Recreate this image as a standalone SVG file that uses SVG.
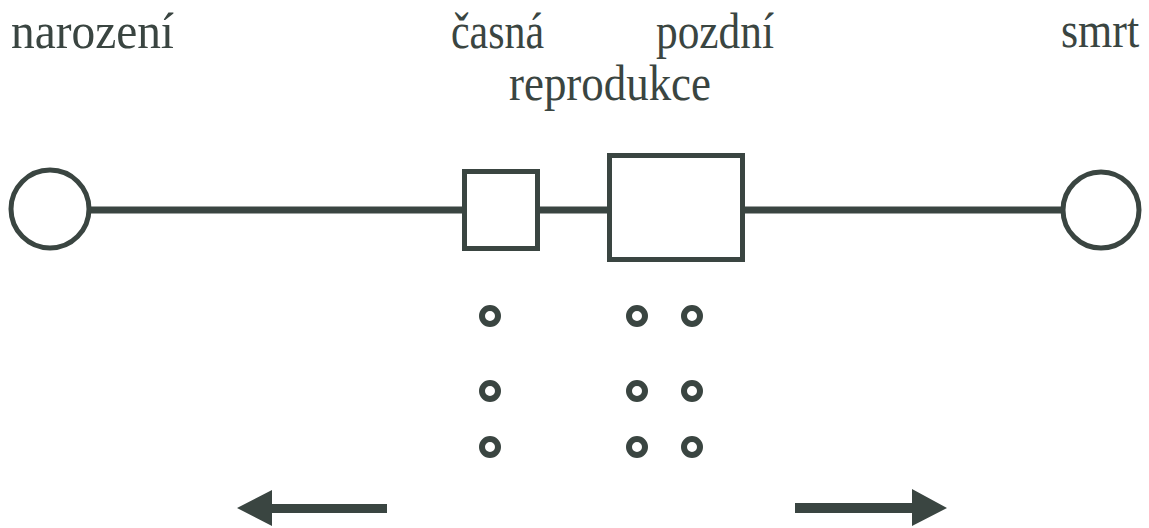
<svg xmlns="http://www.w3.org/2000/svg" width="1149" height="528" viewBox="0 0 1149 528">
<style>
.t{font-family:"Liberation Serif","Times New Roman",serif;font-size:51px;fill:#3a4541}
.s{fill:#fff;stroke:#3a4541;stroke-width:5}
.ln{stroke:#3a4541;stroke-width:7;fill:none}
.d{fill:none;stroke:#3a4541;stroke-width:6}
.a{fill:#3a4541}
</style>
<rect width="1149" height="528" fill="#fff"/>
<g id="connectors">
<line class="ln" x1="88" y1="210" x2="465" y2="210"/>
<line class="ln" x1="537" y1="210" x2="610" y2="210"/>
<line class="ln" x1="742" y1="210" x2="1063" y2="210"/>
</g>
<g id="birth"><circle class="s" cx="50" cy="209" r="39"/><text class="t" x="11" y="48" textLength="163" lengthAdjust="spacingAndGlyphs">narození</text></g>
<g id="early"><rect class="s" x="464.5" y="171.5" width="73" height="77"/><text class="t" x="451" y="48" textLength="93" lengthAdjust="spacingAndGlyphs">časná</text></g>
<g id="late"><rect class="s" x="609.5" y="155.5" width="133" height="104"/><text class="t" x="656" y="48" textLength="118" lengthAdjust="spacingAndGlyphs">pozdní</text></g>
<g id="repro"><text class="t" x="509" y="100" textLength="202" lengthAdjust="spacingAndGlyphs">reprodukce</text></g>
<g id="death"><circle class="s" cx="1101" cy="210" r="38"/><text class="t" style="font-size:44px" x="0" y="0" transform="translate(1061,47) scale(1,1.16)">smrt</text></g>
<g id="dots">
<circle class="d" cx="490" cy="316" r="8"/><circle class="d" cx="637" cy="316" r="8"/><circle class="d" cx="692" cy="316" r="8"/>
<circle class="d" cx="490" cy="391" r="8"/><circle class="d" cx="637" cy="391" r="8"/><circle class="d" cx="692" cy="391" r="8"/>
<circle class="d" cx="490" cy="447" r="8"/><circle class="d" cx="637" cy="447" r="8"/><circle class="d" cx="692" cy="447" r="8"/>
</g>
<g id="arrows">
<polygon class="a" points="237,508 272,490 272,504 387,504 387,513 272,513 272,526"/>
<polygon class="a" points="947,508 912,489 912,503 795,503 795,513 912,513 912,526"/>
</g>
</svg>
